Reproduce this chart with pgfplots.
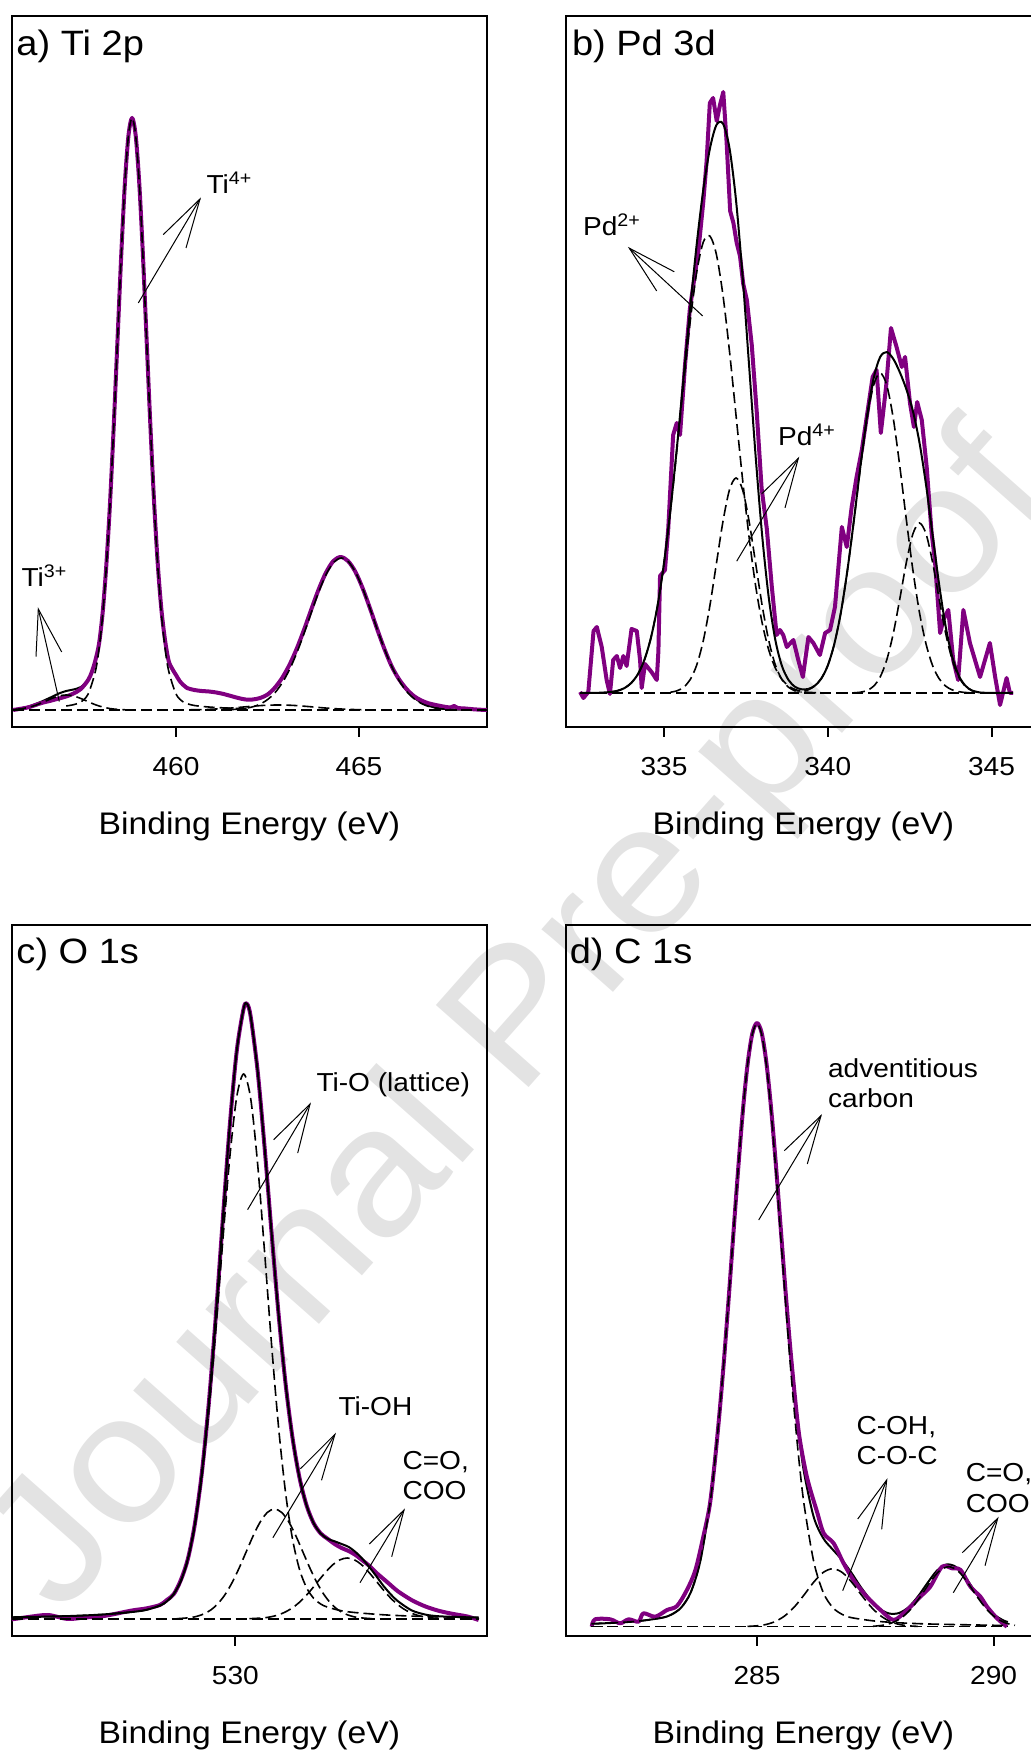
\documentclass[border=0pt]{standalone}
\usepackage{fontspec}
\setmainfont{Liberation Sans}[FakeStretch=1.08]
\usepackage{pgfplots}
\pgfplotsset{compat=1.18}
\definecolor{spec}{RGB}{128,0,128}
\pgfplotsset{
  xpsaxis/.style={
    scale only axis, width=237.65pt, height=355.5pt, anchor=south west,
    ymin=0, ymax=711, ytick=\empty,
    axis line style={line width=1pt},
    tick align=outside, major tick length=5pt, xtick pos=left,
    major tick style={line width=1pt, black},
    /pgf/number format/assume math mode=true,
    xticklabel style={font=\fontsize{13}{13}\selectfont, inner sep=0pt, yshift=-10pt},
    xlabel={Binding Energy (eV)},
    xlabel style={font=\fontsize{15.6}{16}\selectfont, at={(axis description cs:0.5,0)}, anchor=center, yshift=-49.75pt},
  },
  dat/.style={spec, line width=2pt, line join=round},
  fitl/.style={black, line width=1pt, smooth},
  comp/.style={black, line width=0.8pt, dash pattern=on 5.5pt off 2.5pt, smooth},
}
\begin{document}
\begin{tikzpicture}
% watermark
\begin{scope}[x=0.5pt,y=-0.5pt,shift={(0pt,877.5pt)}]
\node[rotate=48.5, anchor=base, inner sep=0pt, text=black!11, font=\fontsize{90}{90}\selectfont] at (558,1055) {Journal Pre-proof};
\end{scope}

% ---------------- a) Ti 2p
\begin{axis}[xpsaxis, at={(5.85pt,514pt)}, xmin=455.51, xmax=468.5, xtick={460,465}]
\addplot[fitl] coordinates {(455.55,17) (455.8,18.8) (456.0,20.8) (456.3,25) (456.6,30) (456.8,33.5) (457.0,36) (457.2,37.5) (457.4,40) (457.6,47) (457.7,55) (457.8,67) (457.9,84) (458.0,116) (458.1,164) (458.2,226) (458.3,302) (458.4,385.5) (458.5,469) (458.6,541.5) (458.7,591) (458.8,609) (458.9,591) (459.0,541.5) (459.1,469) (459.2,385) (459.3,301.5) (459.4,226) (459.5,164) (459.6,118) (459.7,87) (459.8,66) (459.9,58) (460.0,52) (460.1,46) (460.2,42) (460.3,39) (460.5,37) (460.7,36) (460.9,35.5) (461.1,34.5) (461.3,33) (461.5,31) (461.7,29) (461.9,27.5) (462.1,27.5) (462.3,29) (462.5,32.4) (462.7,39.2) (462.9,49) (463.1,62) (463.3,78.3) (463.5,97.3) (463.7,117.8) (463.9,137.7) (464.1,154.4) (464.3,165.9) (464.5,170) (464.7,166) (464.9,155.4) (465.1,138.9) (465.3,118.9) (465.5,97.7) (465.7,77.7) (465.9,60.3) (466.1,46.3) (466.3,36.5) (466.5,29.5) (466.7,24.5) (466.9,21.2) (467.1,19.3) (467.3,18.2) (467.6,17.5) (468.4,17)};
\addplot[dat, smooth] coordinates {(455.55,17) (455.8,18.5) (456.0,20) (456.3,23.7) (456.6,26.5) (456.8,28.5) (457.0,30.5) (457.2,33.5) (457.4,38) (457.6,47) (457.7,55) (457.8,67) (457.9,84) (458.0,116) (458.1,164) (458.2,226) (458.3,302) (458.4,385.5) (458.5,469) (458.6,541.5) (458.7,591) (458.8,609) (458.9,591) (459.0,541.5) (459.1,469) (459.2,385) (459.3,301.5) (459.4,226) (459.5,164) (459.6,118) (459.7,87) (459.8,66) (459.9,58) (460.0,52) (460.1,46) (460.2,42) (460.3,39) (460.5,37) (460.7,36) (460.9,35.5) (461.1,34.5) (461.3,33) (461.5,31) (461.7,29) (461.9,27.5) (462.1,27.5) (462.3,29) (462.5,32.4) (462.7,39.2) (462.9,49) (463.1,62) (463.3,78.3) (463.5,97.3) (463.7,117.8) (463.9,137.7) (464.1,154.4) (464.3,165.9) (464.5,170) (464.7,166) (464.9,155.4) (465.1,138.9) (465.3,118.9) (465.5,97.7) (465.7,77.7) (465.9,60.3) (466.1,47.5) (466.3,38) (466.5,31) (466.7,26.6) (466.9,23.7) (467.1,22) (467.3,20.5) (467.5,19.5) (467.6,21) (467.7,19) (467.9,18.5) (468.1,17.8) (468.3,17.3) (468.5,17)};
\addplot[comp] coordinates {(455.55,17) (468.5,17)};
\addplot[comp] coordinates {(457.0,21) (457.2,22.3) (457.4,25) (457.6,33) (457.8,56) (457.9,79) (458.0,113.5) (458.1,162) (458.2,224.8) (458.3,301.2) (458.4,384.6) (458.5,468.7) (458.6,541.5) (458.7,591) (458.8,609) (458.9,591) (459.0,541.5) (459.1,468.7) (459.2,384.6) (459.3,301.2) (459.4,224.8) (459.5,162) (459.6,113.5) (459.7,79) (459.8,56) (460.0,33) (460.2,25) (460.4,22.3) (460.6,21) (461.0,19.7) (461.5,18.8) (462.0,18.3)};
\addplot[comp] coordinates {(455.6,17.6) (455.8,18.4) (456.0,19.9) (456.2,22.2) (456.4,25.3) (456.6,28.5) (456.8,31) (457.0,32) (457.2,31) (457.4,28.5) (457.6,25.3) (457.8,22.2) (458.0,19.9) (458.2,18.4) (458.4,17.6) (458.6,17.2)};
\addplot[comp] coordinates {(460.4,17.2) (460.8,17.5) (461.2,18.2) (461.6,19.2) (462.0,20.5) (462.4,21.6) (462.8,22) (463.2,21.6) (463.6,20.5) (464.0,19.2) (464.4,18.2) (464.8,17.5) (465.2,17.2)};
\addplot[comp] coordinates {(461.52,17.4) (461.72,17.9) (461.92,18.8) (462.12,20.4) (462.32,23.2) (462.52,27.9) (462.72,34.9) (462.92,45.1) (463.12,58.7) (463.32,75.8) (463.52,95.6) (463.72,116.7) (463.92,136.9) (464.12,153.8) (464.32,165) (464.52,169) (464.72,165) (464.92,153.8) (465.12,136.9) (465.32,116.7) (465.52,95.6) (465.72,75.8) (465.92,58.7) (466.12,45.1) (466.32,34.9) (466.52,27.9) (466.72,23.2) (466.92,20.4) (467.12,18.8) (467.32,17.9) (467.52,17.4)};
\end{axis}

% ---------------- b) Pd 3d
\begin{axis}[xpsaxis, at={(282.85pt,514pt)}, xmin=332.0, xmax=346.51, xtick={335,340,345}]
\addplot[dat] coordinates {(332.44,35) (332.54,29) (332.69,35) (332.85,96) (332.95,100) (333.10,80) (333.25,47) (333.35,33) (333.45,67) (333.56,71) (333.66,59) (333.76,71) (333.86,61) (334.01,98) (334.17,96) (334.27,67) (334.32,39) (334.42,63) (334.62,55) (334.78,47) (334.83,76) (334.88,151) (335.03,157) (335.13,198) (335.28,292) (335.39,304) (335.49,292) (335.64,361) (335.79,418) (336.05,476) (336.20,525) (336.30,565) (336.40,624) (336.50,629) (336.61,606) (336.71,622) (336.81,635) (336.91,586) (337.02,516) (337.12,504) (337.22,484) (337.32,471) (337.42,443) (337.53,427) (337.68,382) (337.83,316) (337.98,239) (338.14,198) (338.29,141) (338.44,92) (338.54,97) (338.64,92) (338.75,80) (338.95,87) (339.10,67) (339.24,50) (339.41,90) (339.56,84) (339.76,72) (339.92,94) (340.07,97) (340.22,120) (340.43,200) (340.58,180) (340.73,220) (340.88,250) (341.04,277) (341.19,310) (341.37,350) (341.49,357) (341.62,294) (341.78,340) (341.93,399) (342.10,380) (342.26,360) (342.36,370) (342.51,324) (342.63,300) (342.73,325) (342.87,307) (343.02,260) (343.17,194) (343.27,167) (343.43,94) (343.53,107) (343.68,117) (343.83,67) (343.98,47) (344.14,117) (344.34,84) (344.65,50) (344.95,84) (345.11,50) (345.26,22) (345.46,49) (345.56,34) (345.66,34)};
\addplot[fitl] coordinates {(332.44,34) (333.0,34.2) (333.4,35.1) (333.6,36.4) (333.8,39) (334.0,44) (334.2,52.6) (334.4,66.9) (334.6,89) (334.8,120.6) (335.0,163.8) (335.2,218) (335.4,281.2) (335.6,349.8) (335.8,418.8) (336.0,482.9) (336.2,537.2) (336.4,578) (336.6,601.9) (336.8,603.4) (337.0,578.9) (337.2,526.5) (337.4,450.6) (337.6,360.7) (337.8,270) (338.0,190.6) (338.2,129.1) (338.4,86.9) (338.6,61.1) (338.8,47.1) (339.0,40.2) (339.2,37.7) (339.4,38) (339.6,41.2) (339.8,48.3) (340.0,61.4) (340.2,83) (340.4,114.4) (340.6,156.7) (340.8,207.2) (341.0,261.3) (341.2,311.1) (341.4,348.7) (341.6,370) (341.8,374.9) (342.0,368.1) (342.2,354.7) (342.4,337.7) (342.6,315.8) (342.8,284.4) (343.0,242.2) (343.2,192.1) (343.4,142.5) (343.6,100.4) (343.8,70.1) (344.0,51.3) (344.2,41.3) (344.4,36.5) (344.6,34.8) (344.8,34.2) (345.66,34)};
\addplot[comp] coordinates {(332.44,34) (345.66,34)};
\addplot[comp] coordinates {(333.4,35.1) (333.6,36.4) (333.8,39) (334.0,44) (334.2,52.6) (334.4,66.9) (334.6,89) (334.8,120.6) (335.0,163.6) (335.2,217.2) (335.4,279) (335.6,344) (335.8,405.4) (336.0,454.9) (336.2,484.9) (336.4,491) (336.6,472.6) (336.8,432) (337.0,375.7) (337.2,311.5) (337.4,247.4) (337.6,189.3) (337.8,140.7) (338.0,103.6) (338.2,76.8) (338.4,58.9) (338.6,47.7) (338.8,41.1) (339.0,37.5) (339.2,35.6) (339.4,34.7) (339.8,34)};
\addplot[comp] coordinates {(335.2,34.8) (335.4,36.2) (335.6,39.8) (335.8,47.4) (336.0,62) (336.2,86.3) (336.4,121) (336.6,163.3) (336.8,205.4) (337.0,237.2) (337.2,249) (337.4,237.2) (337.6,205.4) (337.8,163.3) (338.0,121) (338.2,86.3) (338.4,62) (338.6,47.4) (338.8,39.8) (339.0,36.2) (339.2,34.8)};
\addplot[comp] coordinates {(338.8,34.2) (339.0,34.5) (339.2,35.3) (339.4,37.1) (339.6,40.9) (339.8,48.3) (340.0,61.4) (340.2,83) (340.4,114.4) (340.6,156.6) (340.8,207) (341.0,260.5) (341.2,308.6) (341.4,341.9) (341.6,354) (341.8,341.9) (342.0,308.6) (342.2,260.5) (342.4,207) (342.6,156.6) (342.8,114.4) (343.0,83) (343.2,61.4) (343.4,48.3) (343.6,40.9) (343.8,37.1) (344.0,35.3) (344.2,34.5) (344.4,34.2)};
\addplot[comp] coordinates {(340.8,34.2) (341.0,34.8) (341.2,36.5) (341.4,40.8) (341.6,50) (341.8,67) (342.0,93.5) (342.2,128.2) (342.4,164.7) (342.6,193.2) (342.8,204) (343.0,193.2) (343.2,164.7) (343.4,128.2) (343.6,93.5) (343.8,67) (344.0,50) (344.2,40.8) (344.4,36.5) (344.6,34.8) (344.8,34.2)};
\end{axis}

% ---------------- c) O 1s
\begin{axis}[xpsaxis, at={(5.85pt,59.5pt)}, xmin=522, xmax=539, xtick={530}]
\addplot[dat, smooth] coordinates {(522,16.6) (522.6,19) (523.3,21) (524.0,17) (524.6,18.5) (525.3,20) (526.3,25.5) (526.8,27.5) (527.3,31) (527.55,36) (527.8,42) (528.05,56) (528.3,77) (528.55,111.8) (528.8,163) (529.05,232.9) (529.3,319.6) (529.55,416.4) (529.8,510.5) (530.05,585.2) (530.3,628) (530.42,632) (530.55,619) (530.8,564) (531.05,487) (531.3,401.4) (531.55,320.4) (531.8,251.2) (532.05,197.1) (532.3,157.4) (532.55,130.3) (532.8,112.8) (533.05,102.6) (533.3,97.2) (533.55,92) (533.8,88) (534.05,85) (534.3,81) (534.55,75.5) (534.8,70) (535.05,63) (535.3,57) (535.55,51) (535.8,45) (536.3,36) (536.8,29.5) (537.3,25) (537.8,22) (538.3,19.5) (538.7,16)};
\addplot[fitl] coordinates {(522,18.7) (523.3,19.4) (524.3,20.2) (525.3,21.6) (526.3,24) (526.8,26) (527.3,30.4) (527.55,34.7) (527.8,42.2) (528.05,55.1) (528.3,77) (528.55,111.8) (528.8,163) (529.05,232.9) (529.3,319.6) (529.55,416.4) (529.8,510.5) (530.05,585.2) (530.3,628) (530.42,632) (530.55,619) (530.8,564) (531.05,487) (531.3,401.4) (531.55,320.4) (531.8,251.2) (532.05,197.1) (532.3,157.4) (532.55,130.3) (532.8,112.8) (533.05,102.6) (533.3,97.2) (533.55,94.7) (533.8,92) (534.05,89.1) (534.3,83.9) (534.55,77) (534.8,68.6) (535.05,59.5) (535.3,50) (535.55,41.9) (535.8,35.1) (536.3,25.7) (536.8,21.4) (537.3,19.7) (538.3,18.7) (538.7,18.5)};
\addplot[comp] coordinates {(522,17) (538.7,17)};
\addplot[comp] coordinates {(522,18.7) (523.3,19.4) (524.3,20.2) (525.3,21.6) (526.3,24) (526.8,26) (527.3,30.4) (527.55,34.6) (527.8,42) (528.05,54.6) (528.3,75.9) (528.55,109.6) (528.8,158.7) (529.05,225.2) (529.3,306.4) (529.55,395.2) (529.8,478.4) (530.05,539.3) (530.3,562) (530.55,537) (530.8,470.8) (531.05,382) (531.3,289.5) (531.55,207.3) (531.8,142.2) (532.05,96) (532.3,66) (532.55,48.1) (532.8,37.7) (533.05,32) (533.3,28.8) (533.8,25.2) (534.3,23.4) (535.3,21.2) (536.3,19.9) (537.3,19.2) (538.7,18.4)};
\addplot[comp] coordinates {(527.9,17.3) (528.4,18.4) (528.65,19.9) (528.9,22.4) (529.15,26.6) (529.4,33.1) (529.65,42.2) (529.9,54.3) (530.15,68.9) (530.4,85) (530.65,101) (530.9,114.6) (531.15,123.7) (531.4,127) (531.65,123.7) (531.9,114.6) (532.15,101) (532.4,85) (532.65,68.9) (532.9,54.3) (533.15,42.2) (533.4,33.1) (533.65,26.6) (533.9,22.4) (534.15,19.9) (534.4,18.4) (534.9,17.3)};
\addplot[comp] coordinates {(530.5,17.3) (531.0,18.1) (531.25,19.1) (531.5,20.8) (531.75,23.5) (532.0,27.4) (532.25,32.7) (532.5,39.5) (532.75,47.5) (533.0,56.2) (533.25,64.5) (533.5,71.6) (533.75,76.3) (534.0,78) (534.25,76.3) (534.5,71.6) (534.75,64.5) (535.0,56.2) (535.25,47.5) (535.5,39.5) (535.75,32.7) (536.0,27.4) (536.25,23.5) (536.5,20.8) (536.75,19.1) (537.0,18.1) (537.5,17.3)};
\end{axis}

% ---------------- d) C 1s
\begin{axis}[xpsaxis, at={(282.85pt,59.5pt)}, xmin=280.96, xmax=291.0, xtick={285,290}]
\addplot[fitl] coordinates {(281.5,12.2) (282.0,13.2) (282.5,14.9) (283.0,18.3) (283.2,21.6) (283.4,28.5) (283.6,43.5) (283.8,74.2) (284.0,129.9) (284.1,169.9) (284.2,218.5) (284.3,274) (284.4,336.1) (284.5,401.2) (284.6,465.3) (284.7,523.6) (284.8,571) (284.9,602.2) (285.0,613.2) (285.1,603.1) (285.2,573) (285.3,527.2) (285.4,470.8) (285.5,409.2) (285.6,347.4) (285.7,289.5) (285.8,238.8) (285.9,195.9) (286.0,162) (286.2,118.8) (286.4,97.8) (286.6,86.5) (286.8,75.9) (287.0,62.9) (287.2,48.5) (287.4,36.1) (287.6,26.9) (287.8,22.4) (288.0,23) (288.2,28.7) (288.4,39.5) (288.6,52.9) (288.8,65.3) (289.0,71.5) (289.2,69.2) (289.4,58.9) (289.6,44.9) (289.8,31.5) (290.0,21.7) (290.2,15.7) (290.3,14)};
\addplot[dat, smooth] coordinates {(281.51,9.3) (281.58,16.7) (281.9,16.7) (282.11,12.7) (282.29,16.7) (282.5,14.3) (282.6,22.7) (282.85,19.3) (283.1,26) (283.31,30) (283.52,46) (283.7,66) (283.87,100) (284.0,130) (284.1,170) (284.2,218.5) (284.3,274) (284.4,336) (284.5,401) (284.6,465) (284.7,524) (284.8,571) (284.9,602) (285.0,613) (285.1,603) (285.2,573) (285.3,527) (285.4,471) (285.5,409) (285.6,347) (285.7,290) (285.8,240) (285.9,198) (286.06,158) (286.27,124) (286.41,102.7) (286.62,92.7) (286.83,72.7) (287.04,56) (287.32,39.3) (287.61,26) (287.89,16) (288.17,26) (288.45,39.3) (288.66,49.3) (288.91,69.3) (289.12,67.7) (289.3,66) (289.51,49.3) (289.72,39.3) (289.86,29.3) (290.07,17.7) (290.28,9.3)};
\addplot[comp] coordinates {(281.5,9.3) (290.3,9.3)};
\addplot[comp] coordinates {(281.5,12.2) (282.0,13.2) (282.5,14.9) (283.0,18.3) (283.2,21.6) (283.4,28.5) (283.6,43.5) (283.8,74.2) (284.0,129.9) (284.1,169.9) (284.2,218.5) (284.3,274) (284.4,336.1) (284.5,401.2) (284.6,465.3) (284.7,523.6) (284.8,570.7) (284.9,601.6) (285.0,612.3) (285.1,601.6) (285.2,570.7) (285.3,523.6) (285.4,465.3) (285.5,401.2) (285.6,336.1) (285.7,274) (285.8,218.5) (285.9,169.9) (286.0,129.9) (286.2,74.2) (286.4,43.5) (286.6,28.5) (286.8,21.6) (287.0,18.3) (287.5,14.9) (288.0,13.2) (288.5,12.2) (289.0,11.6) (290.0,10.7) (290.3,10.5)};
\addplot[comp] coordinates {(284.8,9.6) (285.0,10.2) (285.2,11.6) (285.4,14.8) (285.6,20.6) (285.8,29.6) (286.0,41.4) (286.2,53.9) (286.4,63.6) (286.6,67.3) (286.8,63.6) (287.0,53.9) (287.2,41.4) (287.4,29.6) (287.6,20.6) (287.8,14.8) (288.0,11.6) (288.2,10.2) (288.4,9.6)};
\addplot[comp] coordinates {(287.45,9.7) (287.65,10.7) (287.85,13.1) (288.05,18.1) (288.25,26.8) (288.45,39.3) (288.65,53.4) (288.85,64.9) (289.05,69.3) (289.25,64.9) (289.45,53.4) (289.65,39.3) (289.85,26.8) (290.05,18.1) (290.25,13.1) (290.45,10.7)};
\end{axis}

% ---------------- titles, annotations (coordinates in image pixels, y down)
\begin{scope}[x=0.5pt,y=-0.5pt,shift={(0pt,877.5pt)}, line width=0.5pt]
\begin{scope}[every node/.style={anchor=base west, inner sep=0pt, font=\fontsize{17.6}{18}\selectfont}]
\node at (16.0,56) {a) Ti 2p};
\node at (571.5,56) {b) Pd 3d};
\node at (16.0,963.7) {c) O 1s};
\node at (569.3,963.7) {d) C 1s};
\end{scope}
\begin{scope}[every node/.style={anchor=base west, inner sep=0pt, font=\fontsize{13}{13}\selectfont}]
\node at (206.0,193.6) {Ti\textsuperscript{4+}};
\node at (21.0,586.4) {Ti\textsuperscript{3+}};
\node at (582.6,235.7) {Pd\textsuperscript{2+}};
\node at (777.6,445.5) {Pd\textsuperscript{4+}};
\node at (316.0,1091.1) {Ti-O (lattice)};
\node at (338.0,1415.2) {Ti-OH};
\node at (402.0,1470) {C=O,};
\node at (402.0,1500) {COO};
\node at (827.6,1078) {adventitious};
\node at (827.6,1107.5) {carbon};
\node at (856.0,1435) {C-OH,};
\node at (856.0,1464.3) {C-O-C};
\node at (965.3,1481.7) {C=O,};
\node at (965.3,1512.7) {COO};
\end{scope}
% arrows: shaft -- tip, barbs
\draw (138.3,303) -- (200,199); \draw (163.3,234.6) -- (200,199) -- (186,248);
\draw (59.3,701.5) -- (38.3,609); \draw (36,656.6) -- (38.3,609) -- (61.7,652);
\draw (702.7,316) -- (629.3,248.2); \draw (674.3,271.8) -- (629.3,248.2) -- (656.7,291);
\draw (736.7,561.2) -- (798.3,458.3); \draw (761.7,493.8) -- (798.3,458.3) -- (785,507.9);
\draw (247.6,1209.7) -- (310,1104.1); \draw (273.6,1139.7) -- (310,1104.1) -- (297.7,1153.1);
\draw (272.9,1537.7) -- (334.9,1434.4); \draw (300.4,1468.8) -- (334.9,1434.4) -- (321.5,1480.3);
\draw (360,1582.7) -- (404,1510); \draw (369.3,1544) -- (404,1510) -- (391.7,1556.7);
\draw (758.7,1220) -- (821,1115.7); \draw (784.3,1150.7) -- (821,1115.7) -- (807.3,1164);
\draw (842.7,1590.7) -- (886.7,1480); \draw (857.7,1519) -- (886.7,1480) -- (881.7,1529.3);
\draw (953.3,1592.7) -- (997.7,1518.3); \draw (962.3,1552.7) -- (997.7,1518.3) -- (985,1565.7);
\end{scope}
\pgfresetboundingbox
\useasboundingbox (0pt,0pt) rectangle (515.5pt,877.5pt);
\end{tikzpicture}
\end{document}
